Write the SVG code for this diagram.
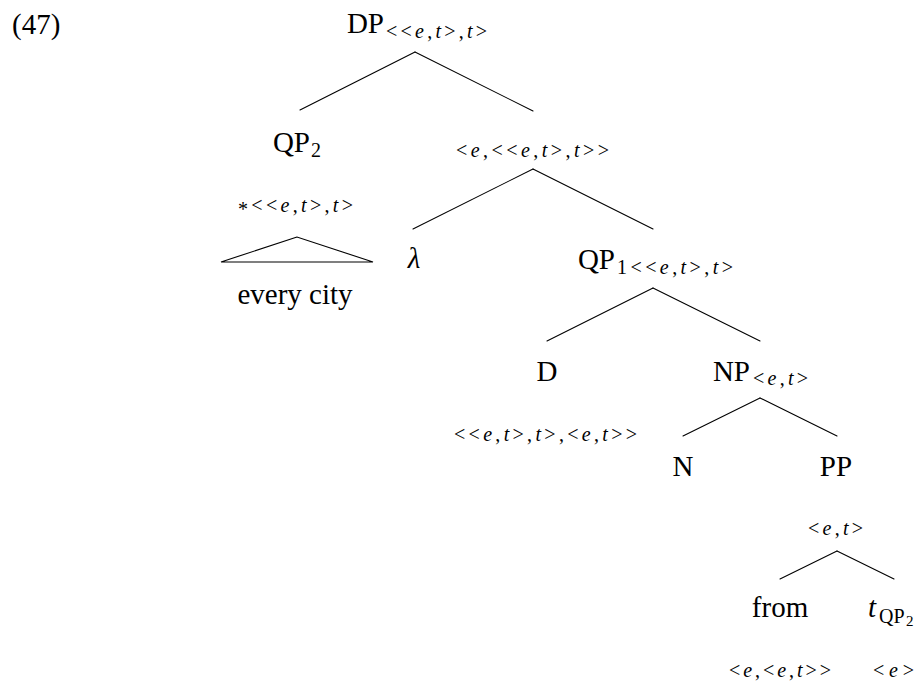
<svg xmlns="http://www.w3.org/2000/svg" width="920" height="684" viewBox="0 0 920 684">
<style>
.m{font-family:"Liberation Serif","Times New Roman",serif;font-size:29px;fill:#000}
.s{font-family:"Liberation Serif","Times New Roman",serif;font-size:20px;fill:#000}
.xs{font-family:"Liberation Serif","Times New Roman",serif;font-size:15px;fill:#000}
.i{font-style:italic}
.c{text-anchor:middle}
.r{text-anchor:end}
.e{stroke:#000;stroke-width:1.1;fill:none;stroke-linecap:round}
</style>
<rect width="920" height="684" fill="#fff"/>
<text class="m" x="12" y="34">(47)</text>
<g id="connectors" class="e">
<line x1="415" y1="52" x2="300" y2="110"/>
<line x1="415" y1="52" x2="533" y2="111"/>
<line x1="533" y1="169" x2="413" y2="229"/>
<line x1="533" y1="169" x2="653" y2="229"/>
<line x1="653" y1="288" x2="547" y2="341"/>
<line x1="653" y1="288" x2="760" y2="341"/>
<line x1="760" y1="398" x2="683" y2="436"/>
<line x1="760" y1="398" x2="837" y2="436"/>
<line x1="837" y1="551" x2="780" y2="579"/>
<line x1="837" y1="551" x2="894" y2="579"/>
</g>
<g id="DP">
<text class="m r" x="384" y="33">DP</text>
<text class="s" x="386" y="38" textLength="101" lengthAdjust="spacing">&lt;&lt;<tspan class="i">e</tspan>,<tspan class="i">t</tspan>&gt;,<tspan class="i">t</tspan>&gt;</text>
</g>
<g id="QP2">
<text class="m r" x="310" y="152">QP</text>
<text class="s" x="311" y="157">2</text>
<text class="s" x="238" y="212" textLength="115" lengthAdjust="spacing"><tspan dy="4">*</tspan><tspan dy="-4">&lt;&lt;</tspan><tspan class="i">e</tspan>,<tspan class="i">t</tspan>&gt;,<tspan class="i">t</tspan>&gt;</text>
<polygon class="e" points="297,237 221,262 373,262"/>
<text class="m c" x="295" y="304">every city</text>
</g>
<g id="ebar">
<text class="s" x="456" y="157" textLength="153" lengthAdjust="spacing">&lt;<tspan class="i">e</tspan>,&lt;&lt;<tspan class="i">e</tspan>,<tspan class="i">t</tspan>&gt;,<tspan class="i">t</tspan>&gt;&gt;</text>
</g>
<g id="lambda">
<text class="m i c" x="414" y="268">λ</text>
</g>
<g id="QP1">
<text class="m r" x="615" y="269">QP</text>
<text class="s" x="617" y="274" textLength="116" lengthAdjust="spacing">1&lt;&lt;<tspan class="i">e</tspan>,<tspan class="i">t</tspan>&gt;,<tspan class="i">t</tspan>&gt;</text>
</g>
<g id="D">
<text class="m c" x="547" y="381">D</text>
<text class="s" x="454" y="441" textLength="183" lengthAdjust="spacing">&lt;&lt;<tspan class="i">e</tspan>,<tspan class="i">t</tspan>&gt;,<tspan class="i">t</tspan>&gt;,&lt;<tspan class="i">e</tspan>,<tspan class="i">t</tspan>&gt;&gt;</text>
</g>
<g id="NP">
<text class="m r" x="750" y="381">NP</text>
<text class="s" x="753" y="385" textLength="55" lengthAdjust="spacing">&lt;<tspan class="i">e</tspan>,<tspan class="i">t</tspan>&gt;</text>
</g>
<g id="N">
<text class="m c" x="683" y="476">N</text>
</g>
<g id="PP">
<text class="m c" x="836" y="476">PP</text>
<text class="s" x="808" y="535" textLength="55" lengthAdjust="spacing">&lt;<tspan class="i">e</tspan>,<tspan class="i">t</tspan>&gt;</text>
</g>
<g id="from">
<text class="m c" x="780" y="617">from</text>
<text class="s" x="729" y="677" textLength="102" lengthAdjust="spacing">&lt;<tspan class="i">e</tspan>,&lt;<tspan class="i">e</tspan>,<tspan class="i">t</tspan>&gt;&gt;</text>
</g>
<g id="tQP2">
<text class="m i" x="868" y="617">t</text>
<text class="s" x="879" y="623">QP</text>
<text class="xs" x="906" y="626">2</text>
<text class="s" x="873" y="677" textLength="41" lengthAdjust="spacing">&lt;<tspan class="i">e</tspan>&gt;</text>
</g>
</svg>
